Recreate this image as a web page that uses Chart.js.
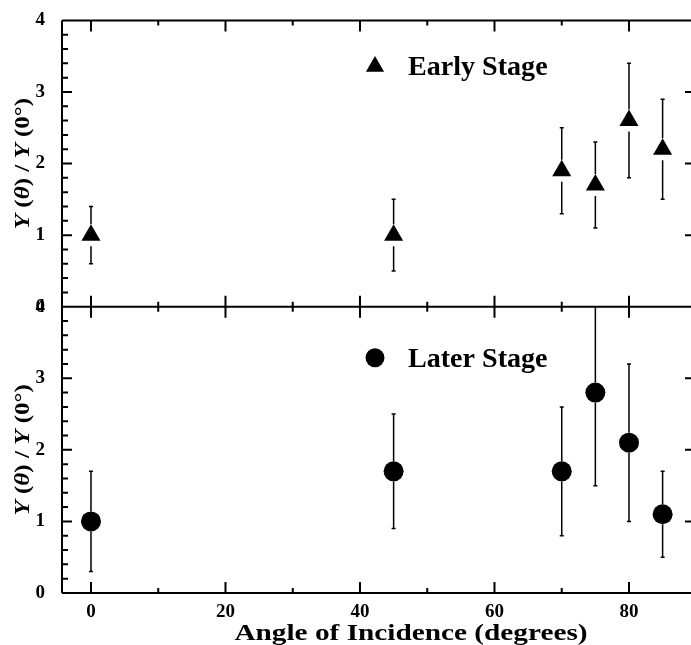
<!DOCTYPE html>
<html>
<head>
<meta charset="utf-8">
<script src="https://cdn.jsdelivr.net/npm/chart.js@4.4.1/dist/chart.umd.min.js"></script>
<style>
  html, body { margin: 0; padding: 0; background: #fff; }
</style>
</head>
<body>
<canvas id="c" width="691" height="645"></canvas>
<script>
// data
const ANGLES = [0, 45, 70, 75, 80, 85]
const EARLY = [1.0, 1.0, 1.9, 1.7, 2.6, 2.2]
const EARLY_LO = [0.6, 0.5, 1.3, 1.1, 1.8, 1.5]
const EARLY_HI = [1.4, 1.5, 2.5, 2.3, 3.4, 2.9]
const LATER = [1.0, 1.7, 1.7, 2.8, 2.1, 1.1]
const LATER_LO = [0.3, 0.9, 0.8, 1.5, 1.0, 0.5]
const LATER_HI = [1.7, 2.5, 2.6, 4.2, 3.2, 1.7]
const X_TICKS = [0, 20, 40, 60, 80]
const Y_TICKS = [0, 1, 2, 3, 4]

const FONT = '"Liberation Serif", "Times New Roman", serif'
const INK = '#000'
const Y_TITLE = [['Y', 'italic bold'], [' (', 'bold'], ['\u03B8', 'italic bold'], [') / ', 'bold'], ['Y', 'italic bold'], [' (0\u00B0)', 'bold']]

const toPoints = (ys, lo, hi) => ANGLES.map((a, i) => ({ x: a, y: ys[i], lo: lo[i], hi: hi[i] }))

// draw a row of text parts centred on 0,0 (ctx already translated)
function drawParts(ctx, parts, size, sx) {
  let total = 0
  parts.forEach(p => { ctx.font = `${p[1]} ${size}px ${FONT}`; total += ctx.measureText(p[0]).width })
  ctx.scale(sx, 1)
  let x = -total / 2
  ctx.textBaseline = 'middle'
  ctx.textAlign = 'left'
  parts.forEach(p => {
    ctx.font = `${p[1]} ${size}px ${FONT}`
    ctx.fillText(p[0], x, 0)
    x += ctx.measureText(p[0]).width
  })
}

const errorBars = {
  id: 'errorBars',
  afterDatasetsDraw(chart) {
    const ctx = chart.ctx
    const xs = chart.scales.x
    ctx.save()
    ctx.strokeStyle = INK
    ctx.lineWidth = 1.5
    chart.data.datasets.forEach(ds => {
      const ys = chart.scales[ds.yAxisID]
      const r = ds.pointRadius
      ds.data.forEach(pt => {
        const px = xs.getPixelForValue(pt.x)
        const py = ys.getPixelForValue(pt.y)
        const top = Math.max(ys.top, ys.getPixelForValue(pt.hi))
        const bot = Math.min(ys.bottom, ys.getPixelForValue(pt.lo))
        ctx.beginPath()
        ctx.moveTo(px, top); ctx.lineTo(px, py - r)
        ctx.moveTo(px, py + r); ctx.lineTo(px, bot)
        if (top > ys.top) { ctx.moveTo(px - 2, top); ctx.lineTo(px + 2, top) }
        ctx.moveTo(px - 2, bot); ctx.lineTo(px + 2, bot)
        ctx.stroke()
      })
    })
    ctx.restore()
  }
}

const frame = {
  id: 'frame',
  afterDraw(chart) {
    const ctx = chart.ctx
    const { left, right } = chart.chartArea
    const xs = chart.scales.x
    const panels = [chart.scales.yTop, chart.scales.yBot]
    ctx.save()
    ctx.strokeStyle = INK
    ctx.fillStyle = INK
    ctx.lineWidth = 2

    ctx.beginPath()
    ctx.moveTo(left, panels[0].top); ctx.lineTo(left, panels[1].bottom)
    ;[panels[0].top, panels[0].bottom, panels[1].bottom].forEach(y => { ctx.moveTo(left, y); ctx.lineTo(right, y) })

    // x ticks on every horizontal edge, pointing inward
    for (let v = 0; v <= 80; v += 10) {
      const px = xs.getPixelForValue(v)
      const len = v % 20 === 0 ? 11 : 5
      ctx.moveTo(px, panels[0].top); ctx.lineTo(px, panels[0].top + len)
      ctx.moveTo(px, panels[0].bottom - len); ctx.lineTo(px, panels[0].bottom + len)
      ctx.moveTo(px, panels[1].bottom); ctx.lineTo(px, panels[1].bottom - len)
    }
    // y ticks: minor every 0.2 on the left, integers on the right
    panels.forEach(ys => {
      for (let k = 1; k < 20; k++) {
        const py = ys.getPixelForValue(k / 5)
        ctx.moveTo(left, py); ctx.lineTo(left + (k % 5 === 0 ? 10 : 6), py)
      }
      Y_TICKS.slice(1, -1).forEach(v => {
        const py = ys.getPixelForValue(v)
        ctx.moveTo(right, py); ctx.lineTo(right - 6, py)
      })
    })
    ctx.stroke()

    // axis titles
    panels.forEach(ys => {
      ctx.save()
      ctx.translate(24, (ys.top + ys.bottom) / 2)
      ctx.rotate(-Math.PI / 2)
      drawParts(ctx, Y_TITLE, 20, 1.25)
      ctx.restore()
    })
    ctx.save()
    ctx.translate(411, 634)
    drawParts(ctx, [['Angle of Incidence (degrees)', 'bold']], 24, 1.22)
    ctx.restore()

    // legends inside each panel
    const legends = [
      { style: 'triangle', r: 10.5, text: 'Early Stage', ys: panels[0], dy: 46 },
      { style: 'circle', r: 9.5, text: 'Later Stage', ys: panels[1], dy: 51 }
    ]
    legends.forEach(l => {
      const y = l.ys.top + l.dy
      Chart.helpers.drawPoint(ctx, { pointStyle: l.style, radius: l.r, rotation: 0, borderWidth: 0 }, 375, y)
      ctx.save()
      ctx.translate(408, y + 2)
      ctx.font = `bold 27px ${FONT}`
      ctx.textBaseline = 'middle'
      ctx.textAlign = 'left'
      ctx.scale(1.04, 1)
      ctx.fillText(l.text, 0, 0)
      ctx.restore()
    })
    ctx.restore()
  }
}

const tickFont = { family: FONT, size: 19, weight: 'bold' }
const yScale = (weight) => ({
  type: 'linear',
  position: 'left',
  stack: 'panels',
  stackWeight: 1,
  weight: weight,
  min: 0,
  max: 4,
  grid: { display: false },
  border: { display: false },
  ticks: { stepSize: 1, font: tickFont, color: INK, padding: 9 },
  afterBuildTicks: s => { s.ticks = Y_TICKS.map(v => ({ value: v })) },
  afterFit: s => { s.width = 62 }
})

new Chart(document.getElementById('c'), {
  type: 'scatter',
  data: {
    datasets: [
      {
        label: 'Early Stage',
        data: toPoints(EARLY, EARLY_LO, EARLY_HI),
        yAxisID: 'yTop',
        pointStyle: 'triangle',
        pointRadius: 11,
        backgroundColor: INK,
        borderWidth: 0
      },
      {
        label: 'Later Stage',
        data: toPoints(LATER, LATER_LO, LATER_HI),
        yAxisID: 'yBot',
        pointStyle: 'circle',
        pointRadius: 10,
        backgroundColor: INK,
        borderWidth: 0
      }
    ]
  },
  options: {
    responsive: false,
    animation: false,
    devicePixelRatio: 1,
    layout: { autoPadding: false, padding: { top: 20, left: 0, right: 0, bottom: 0 } },
    plugins: { legend: { display: false }, tooltip: { enabled: false } },
    scales: {
      x: {
        type: 'linear',
        min: -4.31,
        max: 89.22,
        grid: { display: false },
        border: { display: false },
        ticks: { font: tickFont, color: INK, padding: 0 },
        afterBuildTicks: s => { s.ticks = X_TICKS.map(v => ({ value: v })) },
        afterFit: s => { s.height = 52 }
      },
      yTop: yScale(1),
      yBot: yScale(0)
    }
  },
  plugins: [errorBars, frame]
})
</script>
</body>
</html>
